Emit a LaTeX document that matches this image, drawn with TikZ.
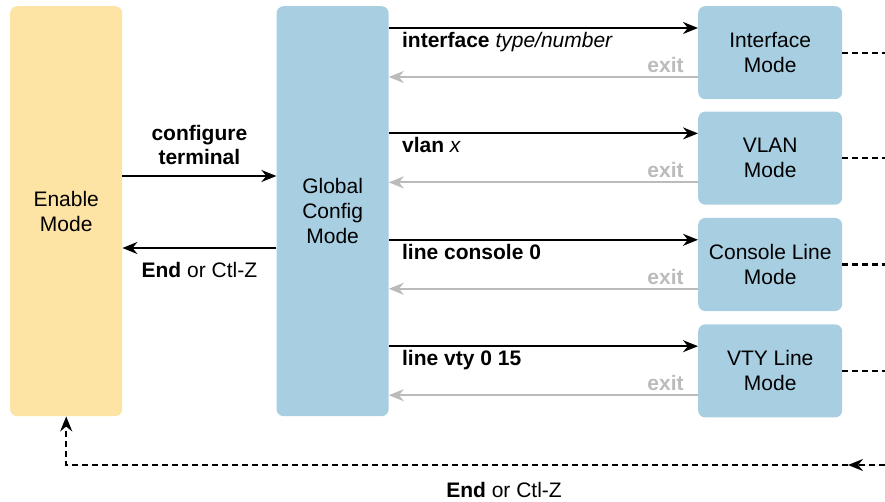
\documentclass[tikz,border=0pt]{standalone}
\usepackage{fontspec}
\setmainfont{Liberation Sans}
\usetikzlibrary{arrows.meta, positioning, calc}
\definecolor{enableyellow}{RGB}{253,228,164}
\definecolor{modeblue}{RGB}{168,206,226}
\definecolor{exitgray}{RGB}{187,187,187}

\begin{document}
\begin{tikzpicture}[x=1pt, y=1pt, font=\fontsize{21}{25}\selectfont,
          bigbox/.style={rectangle, rounded corners=7pt, minimum width=112pt, minimum height=410pt, align=center, inner sep=0pt},
          modebox/.style={rectangle, fill=modeblue, rounded corners=7pt, minimum width=144pt, minimum height=93pt, align=center, inner sep=0pt},
          arrow/.style={-{Stealth[length=15pt, width=12pt]}, line width=2pt},
          exitarrow/.style={arrow, color=exitgray},
          dotline/.style={line width=2.2pt, dash pattern=on 6pt off 4pt},
          cmd/.style={font=\fontsize{21}{24}\selectfont\bfseries, align=center}]
        \useasboundingbox (0,0) rectangle (885,-502);

        \node [bigbox, fill=enableyellow, anchor=north west] (enable) at (10,-6) {Enable\\Mode};
        \node [bigbox, fill=modeblue, right=154pt of enable] (global) {Global\\Config\\Mode};
        \node [modebox, anchor=north west] (intf) at (698,-6) {Interface\\Mode};
        \node [modebox, below=12pt of intf] (vlan) {VLAN\\Mode};
        \node [modebox, below=13pt of vlan] (con) {Console Line\\Mode};
        \node [modebox, below=13pt of con] (vty) {VTY Line\\Mode};

        % enable <-> global config
        \coordinate (ct) at ($(enable.north east)+(0,-170)$);
        \coordinate (ce) at ($(global.north west)+(0,-242)$);
        \draw [arrow] (ct) -- (ct -| global.west) node [midway, above, cmd, yshift=7pt] {configure\\terminal};
        \draw [arrow] (ce) -- (ce -| enable.east) node [midway, below, yshift=-10pt] {\textbf{End} or Ctl-Z};

        % global config <-> modes
        \coordinate (i1) at ($(intf.north west)+(0,-22)$);
        \coordinate (i2) at ($(intf.north west)+(0,-71)$);
        \coordinate (v1) at ($(vlan.north west)+(0,-22)$);
        \coordinate (v2) at ($(vlan.north west)+(0,-71)$);
        \coordinate (c1) at ($(con.north west)+(0,-22)$);
        \coordinate (c2) at ($(con.north west)+(0,-71)$);
        \coordinate (t1) at ($(vty.north west)+(0,-22)$);
        \coordinate (t2) at ($(vty.north west)+(0,-71)$);
        \draw [arrow] (i1 -| global.east) -- (i1) node [pos=0, below right, cmd, xshift=9pt] {interface {\mdseries\itshape type/number}};
        \draw [exitarrow] (i2) -- (i2 -| global.east) node [pos=0, above left, cmd, exitgray, xshift=-10pt] {exit};
        \draw [arrow] (v1 -| global.east) -- (v1) node [pos=0, below right, cmd, xshift=9pt] {vlan {\mdseries\itshape x}};
        \draw [exitarrow] (v2) -- (v2 -| global.east) node [pos=0, above left, cmd, exitgray, xshift=-10pt] {exit};
        \draw [arrow] (c1 -| global.east) -- (c1) node [pos=0, below right, cmd, xshift=9pt] {line console 0};
        \draw [exitarrow] (c2) -- (c2 -| global.east) node [pos=0, above left, cmd, exitgray, xshift=-10pt] {exit};
        \draw [arrow] (t1 -| global.east) -- (t1) node [pos=0, below right, cmd, xshift=9pt] {line vty 0 15};
        \draw [exitarrow] (t2) -- (t2 -| global.east) node [pos=0, above left, cmd, exitgray, xshift=-10pt] {exit};

        % dotted lines leaving the picture
        \coordinate (rim) at (885,0);
        \draw [dotline] (intf.east) -- (intf.east -| rim);
        \draw [dotline] (vlan.east) -- (vlan.east -| rim);
        \draw [dotline] (con.east) -- (con.east -| rim);
        \draw [dotline] (vty.east) -- (vty.east -| rim);

        % back to enable mode
        \coordinate (back) at (885,-465);
        \coordinate (backtip) at (848,-465);
        \draw [dotline, arrow] (back) -- (backtip);
        \draw [dotline, arrow] (backtip) -| (enable.south) node [pos=0.22, below, yshift=-13pt] {\textbf{End} or Ctl-Z};
      \end{tikzpicture}
\end{document}
